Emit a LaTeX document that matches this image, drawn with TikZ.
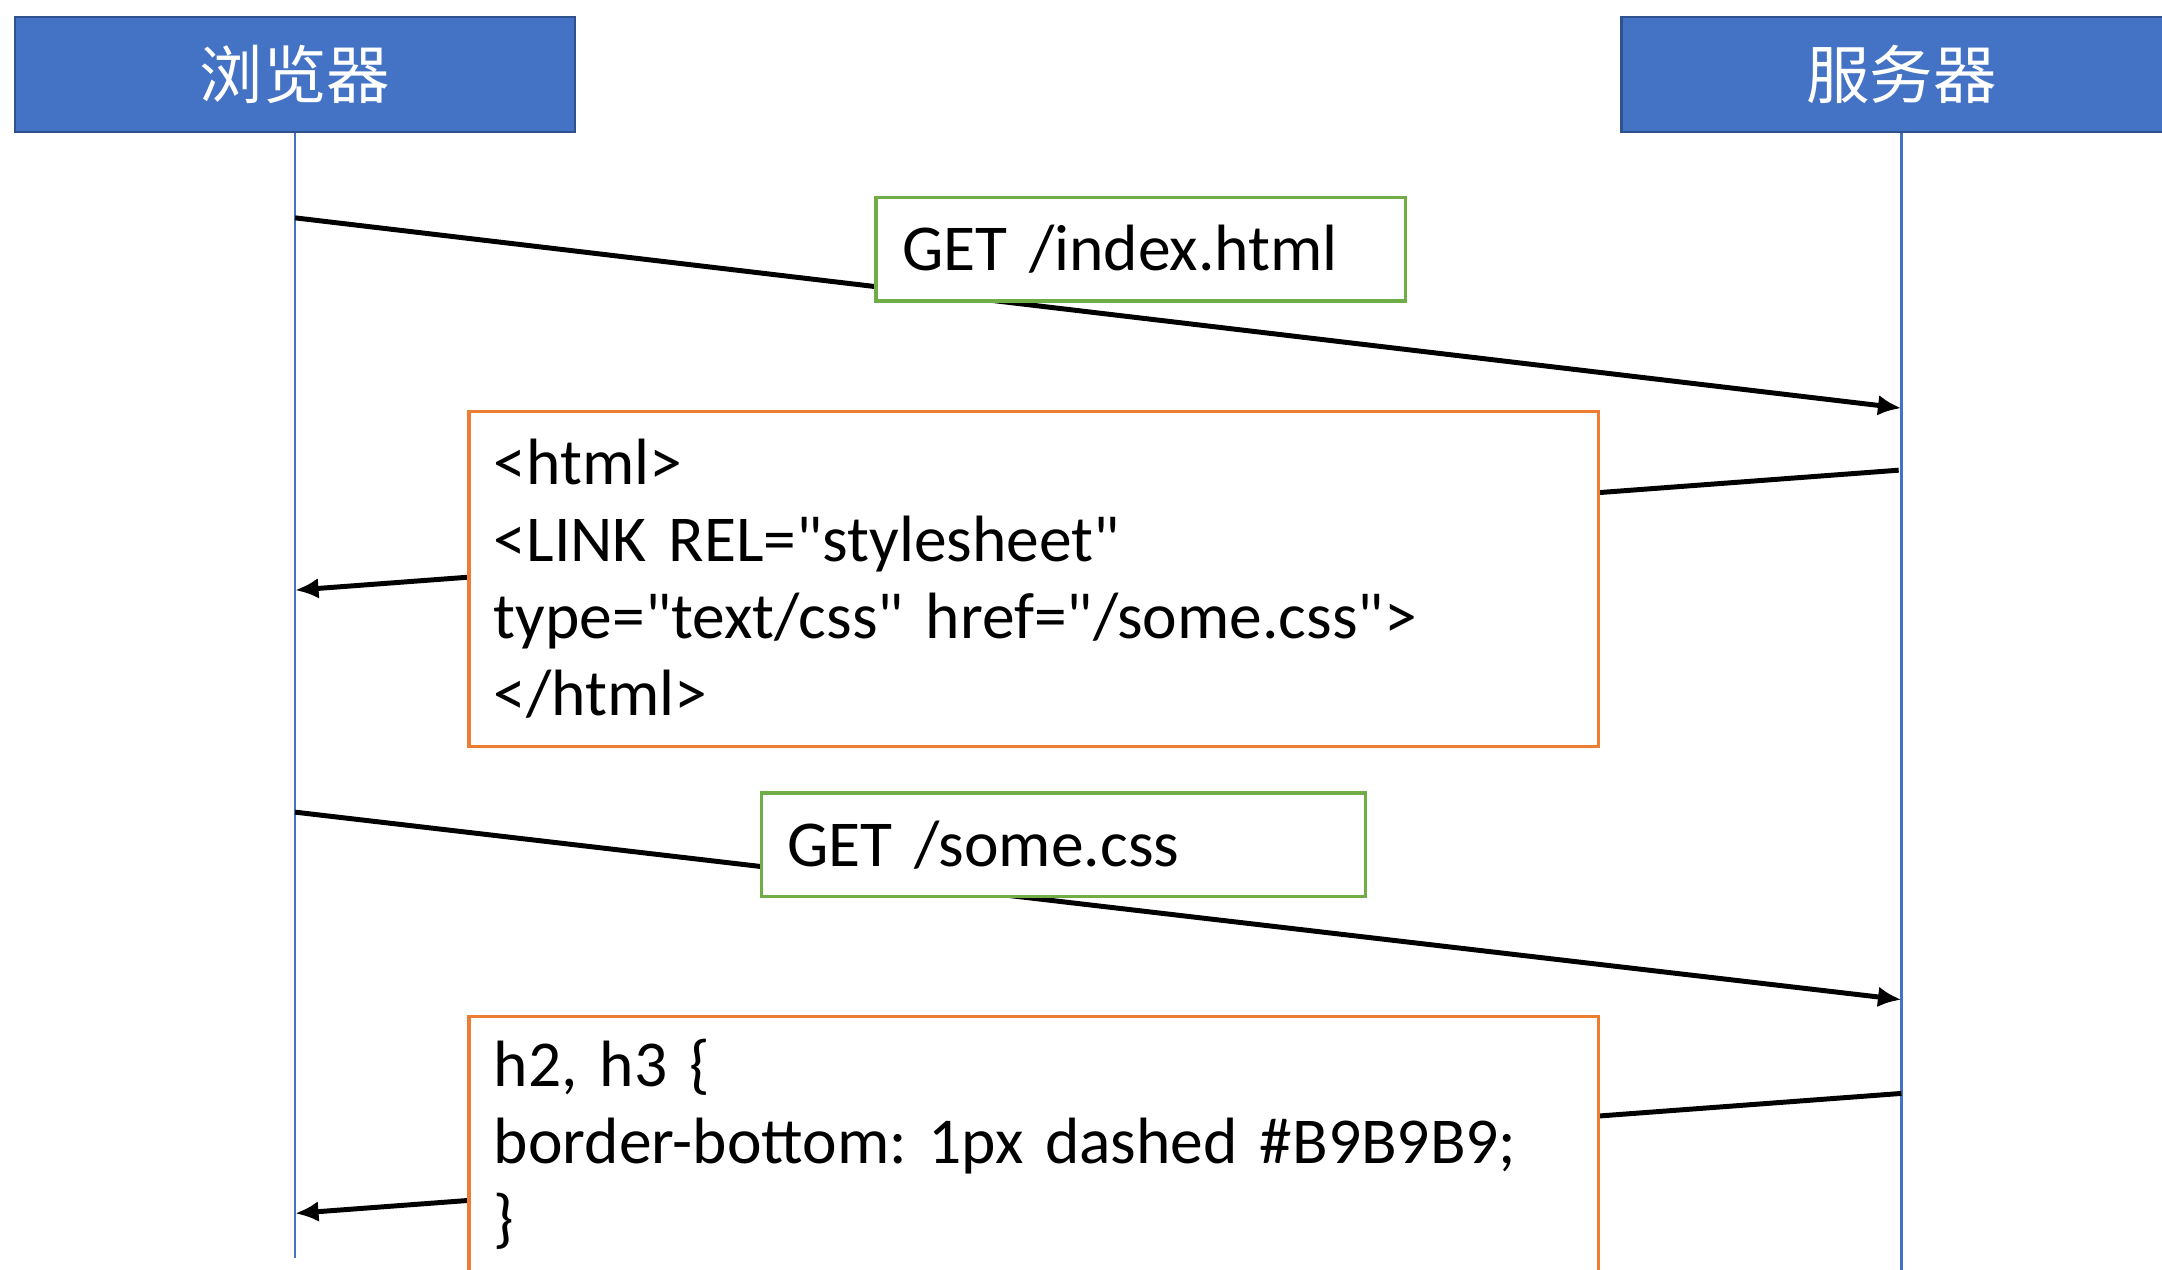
\documentclass[tikz,border=0pt]{standalone}
\usepackage{fontspec}
\setmainfont{Carlito}[Ligatures=TeXOff]
\newfontfamily\cjk{Noto Sans CJK SC}
\usepackage{xcolor}
\usepackage{tikz}
\usetikzlibrary{positioning}
\usetikzlibrary{arrows.meta,shapes}
\usetikzlibrary{calc}

\definecolor{actorblue}{HTML}{4472C4}
\definecolor{actorline}{HTML}{2F528F}
\definecolor{reqgreen}{HTML}{70AD47}
\definecolor{resorange}{HTML}{ED7D31}

\tikzset{
 actor/.style={draw=actorline, line width=1.5pt, fill=actorblue, text=white,
   minimum width=406pt, minimum height=84pt, inner sep=0pt,
   font=\cjk\fontsize{46}{50}\selectfont},
 lifeline/.style={draw=actorblue, line width=2pt},
 msg/.style={draw, line width=3.6pt, -{Latex[length=17pt,width=15pt]}},
 req/.style={draw=reqgreen, line width=2.5pt, fill=white, anchor=north west,
   align=left, inner xsep=19pt, inner ysep=0pt, minimum height=75pt,
   font=\fontsize{47.5}{56}\selectfont\frenchspacing},
 res/.style={draw=resorange, line width=2.5pt, fill=white, anchor=north west,
   align=left, inner xsep=18pt, inner ysep=0pt,
   font=\fontsize{47.5}{56}\selectfont\frenchspacing},
}

\begin{document}
\begin{tikzpicture}[x=1pt, y=-1pt]
 \useasboundingbox (0,0) rectangle (1568,921);

 %actors
 \node[actor] (browser) at (214,54) {浏览器};
 \node[actor] (server) at (1379,54) {服务器};

 %lifelines
 \coordinate (bend) at (214,912);
 \coordinate (send) at (1379,925);
 \path[lifeline] (browser.south) -- (bend);
 \path[lifeline] (server.south) -- (send);

 %message points
 \coordinate (b1) at (214,158);
 \coordinate (s1) at (1379,296);
 \coordinate (s2) at (1377,341);
 \coordinate (b2) at (214,428);
 \coordinate (b3) at (214,589);
 \coordinate (s3) at (1379,725);
 \coordinate (s4) at (1379,793);
 \coordinate (b4) at (214,880);

 %arrows
 \path[msg] (b1) -- (s1);
 \path[msg] (s2) -- (b2);
 \path[msg] (b3) -- (s3);
 \path[msg] (s4) -- (b4);

 %requests
 \node[req, text width=346pt] (getindex) at (634,142) {GET /index.html};
 \node[req, text width=400pt] (getcss) at (551,574) {GET /some.css};

 %responses
 \node[res, text width=783pt, minimum height=243pt] (html) at (339,297)
   {<html>\\<LINK REL="stylesheet"\\type="text/css" href="/some.css">\\</html>};
 \node[res, text width=783pt, minimum height=185pt] (css) at (339,736)
   {h2, h3 \{\\border-bottom: 1px dashed \#B9B9B9;\\\}};

\end{tikzpicture}
\end{document}
